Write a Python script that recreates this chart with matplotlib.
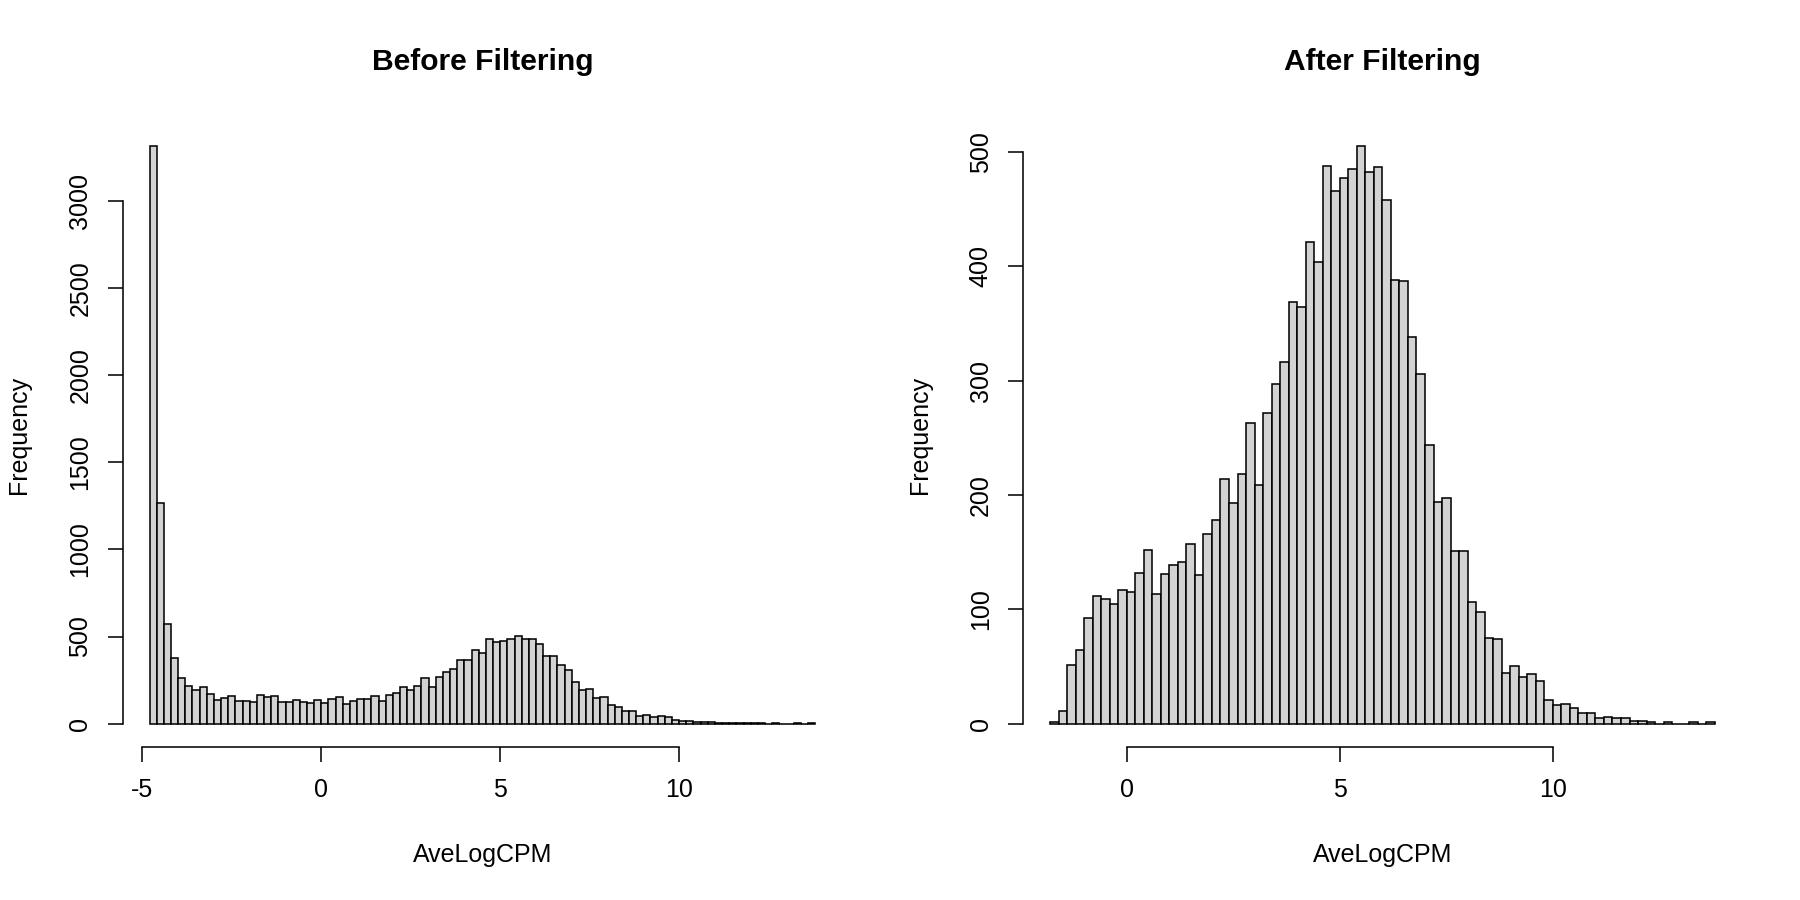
import numpy as np
import matplotlib.pyplot as plt

plt.rcParams['font.family'] = ['Liberation Sans', 'DejaVu Sans']
plt.rcParams['axes.unicode_minus'] = False

# histogram counts, bins of width 0.2
bin_width = 0.2

before_start = -4.8
before_counts = [3315, 1266, 574, 377, 262, 218, 193, 209, 170, 134,
                 145, 161, 132, 130, 124, 163, 151, 157, 124, 124,
                 138, 126, 119, 134, 121, 140, 155, 115, 132, 142,
                 142, 157, 128, 166, 178, 212, 191, 218, 262, 210,
                 268, 297, 316, 367, 367, 421, 406, 486, 467, 477,
                 484, 504, 483, 486, 455, 387, 386, 337, 307, 241,
                 192, 199, 149, 151, 105, 98, 74, 73, 43, 50,
                 40, 43, 36, 20, 15, 16, 12, 9, 9, 5,
                 5, 5, 4, 2, 2, 1, 0, 1, 0, 0,
                 1, 0, 1]

after_start = -1.8
after_counts = [1, 11, 51, 64, 92, 112, 109, 105, 117, 115,
                132, 152, 113, 131, 139, 141, 157, 130, 166, 178,
                214, 193, 218, 263, 209, 272, 297, 316, 369, 364,
                421, 404, 488, 466, 477, 485, 505, 482, 487, 458,
                388, 387, 338, 306, 244, 194, 197, 151, 151, 106,
                98, 75, 74, 44, 50, 41, 43, 37, 21, 16,
                17, 14, 9, 9, 5, 6, 5, 5, 2, 2,
                1, 0, 1, 0, 0, 1, 0, 1]

before_xticks = [-5, 0, 5, 10]
before_yticks = [0, 500, 1000, 1500, 2000, 2500, 3000]
after_xticks = [0, 5, 10]
after_yticks = [0, 100, 200, 300, 400, 500]


def draw_hist(ax, start, counts, xticks, yticks, title):
    counts = np.asarray(counts)
    edges = start + bin_width * np.arange(len(counts))
    ax.bar(edges, counts, width=bin_width, align='edge',
           color='#d3d3d3', edgecolor='black', linewidth=0.75)

    # R style 4% padding around data range
    lo, hi = edges[0], edges[-1] + bin_width
    pad = 0.04 * (hi - lo)
    ax.set_xlim(lo - pad, hi + pad)
    top = counts.max()
    ax.set_ylim(-0.04 * top, 1.04 * top)

    for side in ['top', 'right']:
        ax.spines[side].set_visible(False)
    ax.spines['left'].set_bounds(yticks[0], yticks[-1])
    ax.spines['bottom'].set_bounds(xticks[0], xticks[-1])
    for side in ['left', 'bottom']:
        ax.spines[side].set_linewidth(0.75)

    ax.set_xticks(xticks)
    ax.set_xticklabels([str(t) for t in xticks])
    ax.set_yticks(yticks)
    ax.set_yticklabels([str(t) for t in yticks], rotation=90, va='center')
    ax.tick_params(direction='out', length=7.2, width=0.75, labelsize=12)
    ax.tick_params(axis='x', pad=8)
    ax.tick_params(axis='y', pad=7.5)

    ax.text(0.5, 1.098, title, transform=ax.transAxes, ha='center',
            va='center', fontsize=14.4, fontweight='bold')
    ax.text(0.5, -0.174, 'AveLogCPM', transform=ax.transAxes,
            ha='center', va='center', fontsize=12)
    ax.text(-0.144, 0.5, 'Frequency', transform=ax.transAxes, rotation=90,
            ha='center', va='center', fontsize=12)


fig = plt.figure(figsize=(12, 6), dpi=150)
ax1 = fig.add_axes([0.0683, 0.1703, 0.3993, 0.693])
ax2 = fig.add_axes([0.5686, 0.1703, 0.3988, 0.693])

draw_hist(ax1, before_start, before_counts, before_xticks, before_yticks,
          'Before Filtering')
draw_hist(ax2, after_start, after_counts, after_xticks, after_yticks,
          'After Filtering')

fig.savefig('out.png', dpi=150)
